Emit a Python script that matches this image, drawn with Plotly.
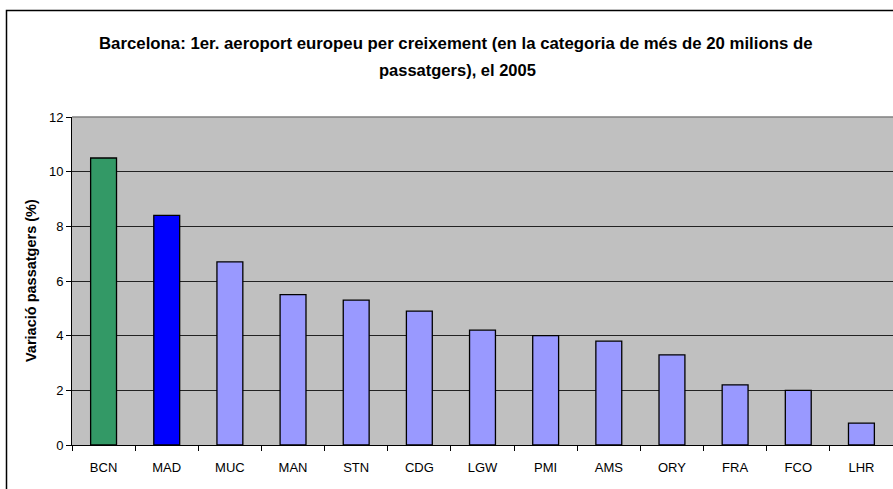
import plotly.graph_objects as go

airports = ["BCN", "MAD", "MUC", "MAN", "STN", "CDG", "LGW", "PMI", "AMS", "ORY", "FRA", "FCO", "LHR"]
growth = [10.5, 8.4, 6.7, 5.5, 5.3, 4.9, 4.2, 4.0, 3.8, 3.3, 2.2, 2.0, 0.8]
bar_colors = ["#339966", "#0000FF"] + ["#9999FF"] * 11
y_ticks = [0, 2, 4, 6, 8, 10, 12]

title_line1 = "Barcelona: 1er. aeroport europeu per creixement (en la categoria de més de 20 milions de"
title_line2 = "passatgers), el 2005"
y_title = "Variació passatgers (%)"

W, H = 893, 489
L, R, T, B = 72, 0, 117, 44
pw, ph = W - L - R, H - T - B

fig = go.Figure(go.Bar(
    x=airports, y=growth,
    marker=dict(color=bar_colors, line=dict(color="black", width=1.3)),
    width=0.41,
))

def px_x(p):
    return (p - L) / pw

def px_y(p):
    return (H - B - p) / ph

fig.update_layout(
    width=W, height=H,
    margin=dict(l=L, r=R, t=T, b=B),
    paper_bgcolor="white",
    plot_bgcolor="#C0C0C0",
    font=dict(family="Liberation Sans, Arial, sans-serif", size=13, color="black"),
    showlegend=False,
    xaxis=dict(
        type="category",
        showline=True, linecolor="black", linewidth=1,
        ticks="outside", tickson="boundaries", ticklen=5, tickcolor="black",
        tickfont=dict(size=13), ticklabelstandoff=10,
        showgrid=False,
    ),
    yaxis=dict(
        range=[0, 12], tickvals=y_ticks,
        showline=True, linecolor="black", linewidth=1,
        ticks="outside", ticklen=5, tickcolor="black",
        showgrid=True, gridcolor="#222222", gridwidth=1,
        zeroline=False,
        tickfont=dict(size=13),
    ),
    annotations=[
        dict(text="<b>" + title_line1 + "</b>", xref="paper", yref="paper",
             x=px_x(455), y=px_y(43), showarrow=False, font=dict(size=16.8),
             xanchor="center", yanchor="middle"),
        dict(text="<b>" + title_line2 + "</b>", xref="paper", yref="paper",
             x=px_x(457), y=px_y(70), showarrow=False, font=dict(size=16.5),
             xanchor="center", yanchor="middle"),
        dict(text="<b>" + y_title + "</b>", xref="paper", yref="paper",
             x=px_x(31), y=px_y(281), showarrow=False, font=dict(size=14.5),
             textangle=-90, xanchor="center", yanchor="middle"),
    ],
    shapes=[
        dict(type="rect", xref="paper", yref="paper",
             x0=px_x(6.5), x1=px_x(920), y0=px_y(520), y1=px_y(10.5),
             line=dict(color="black", width=1.5), fillcolor="rgba(0,0,0,0)", layer="above"),
        dict(type="line", xref="paper", yref="paper", x0=0, x1=1, y0=1, y1=1,
             line=dict(color="#808080", width=1.5)),
    ],
)

fig.write_html(
    "out.html",
    config={"displayModeBar": False},
    post_script="document.body.style.margin='0';document.body.style.overflow='hidden';",
)
